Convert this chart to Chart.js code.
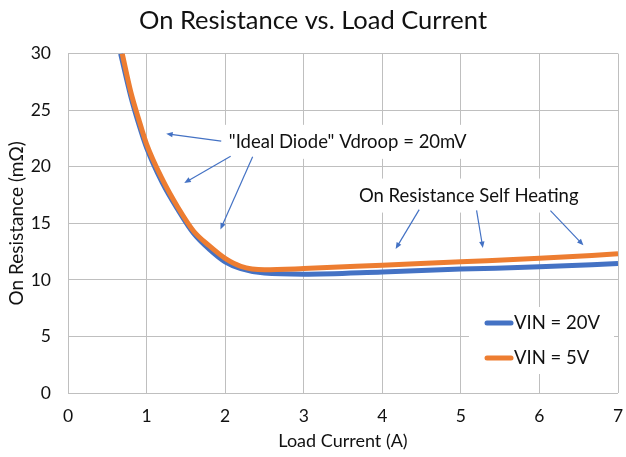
<!DOCTYPE html>
<html>
<head>
<meta charset="utf-8">
<script src="https://cdn.jsdelivr.net/npm/chart.js@4.4.8/dist/chart.umd.min.js"></script>
<style>
  html, body { margin: 0; padding: 0; background: #fff; overflow: hidden; }
  canvas { display: block; }
</style>
</head>
<body>
<canvas id="chart" width="626" height="457"></canvas>
<script>
const CHART_TITLE = "On Resistance vs. Load Current";
const X_TITLE = "Load Current (A)";
const Y_TITLE = "On Resistance (mΩ)";
const SERIES_LABELS = ["VIN = 20V", "VIN = 5V"];

// VIN = 20V
const vin20Current = [0.67, 0.8, 0.9, 1.0, 1.2, 1.4, 1.6, 1.8, 2.0, 2.2, 2.5, 3.0, 4.0, 5.0, 6.0, 7.0];
const vin20Ron = [30, 26.2, 23.8, 21.7, 18.6, 16.2, 14.1, 12.7, 11.6, 11.0, 10.6, 10.5, 10.7, 10.95, 11.15, 11.45];

// VIN = 5V
const vin5Current = [0.69, 0.8, 0.9, 1.0, 1.2, 1.4, 1.6, 1.8, 2.0, 2.2, 2.5, 3.0, 4.0, 5.0, 6.0, 7.0];
const vin5Ron = [30, 26.6, 24.2, 22.0, 18.9, 16.4, 14.3, 13.0, 11.9, 11.2, 10.9, 11.0, 11.3, 11.6, 11.9, 12.3];

const X_MIN = 0, X_MAX = 7, X_STEP = 1;
const Y_MIN = 0, Y_MAX = 30, Y_STEP = 5;

// callouts, anchored in data units (current, resistance)
const noteIdeal = "\"Ideal Diode\" Vdroop = 20mV";
const noteIdealAt = [3.56, 22.2];
const noteIdealArrows = [
  [1.95, 22.26, 1.25, 22.91],
  [2.07, 20.93, 1.48, 18.57],
  [2.35, 20.88, 1.94, 14.46],
];
const noteHeat = "On Resistance Self Heating";
const noteHeatAt = [5.10, 17.45];
const noteHeatArrows = [
  [4.47, 16.21, 4.17, 12.73],
  [5.20, 16.15, 5.28, 12.82],
  [6.14, 16.12, 6.56, 13.05],
];

const BLUE = "#4472c4";
const ORANGE = "#ed7d31";
const GRID = "#bfbfbf";
const TEXT = "#111111";
const FONT = "Lato, 'Open Sans', sans-serif";

function toPoints(xs, ys) {
  return xs.map((x, i) => ({ x, y: ys[i] }));
}

function drawArrow(ctx, x1, y1, x2, y2) {
  const ang = Math.atan2(y2 - y1, x2 - x1);
  const head = 7;
  ctx.beginPath();
  ctx.moveTo(x1, y1);
  ctx.lineTo(x2 - Math.cos(ang) * 3, y2 - Math.sin(ang) * 3);
  ctx.stroke();
  ctx.beginPath();
  ctx.moveTo(x2, y2);
  ctx.lineTo(x2 - head * Math.cos(ang - 0.4), y2 - head * Math.sin(ang - 0.4));
  ctx.lineTo(x2 - head * Math.cos(ang + 0.4), y2 - head * Math.sin(ang + 0.4));
  ctx.closePath();
  ctx.fill();
}

const calloutPlugin = {
  id: "callouts",
  afterDatasetsDraw(chart) {
    const { ctx, scales: { x, y } } = chart;
    const notes = [
      [noteIdeal, noteIdealAt, noteIdealArrows],
      [noteHeat, noteHeatAt, noteHeatArrows],
    ];
    ctx.save();
    ctx.font = `18.5px ${FONT}`;
    ctx.textAlign = "center";
    ctx.textBaseline = "middle";
    notes.forEach(([text, at, arrows]) => {
      const cx = x.getPixelForValue(at[0]);
      const cy = y.getPixelForValue(at[1]);
      const w = ctx.measureText(text).width;
      ctx.fillStyle = "#fff";
      ctx.fillRect(cx - w / 2 - 7, cy - 17, w + 14, 34);
      ctx.fillStyle = TEXT;
      ctx.fillText(text, cx, cy);
      ctx.strokeStyle = BLUE;
      ctx.fillStyle = BLUE;
      ctx.lineWidth = 1.2;
      arrows.forEach(a => {
        drawArrow(ctx,
          x.getPixelForValue(a[0]), y.getPixelForValue(a[1]),
          x.getPixelForValue(a[2]), y.getPixelForValue(a[3]));
      });
    });
    ctx.restore();
  },
  afterDraw(chart) {
    // legend box inside the plot, lower right
    const { ctx, chartArea } = chart;
    const right = chartArea.right - 4;
    const bottom = chartArea.bottom - 19;
    const w = 145, h = 67;
    ctx.save();
    ctx.fillStyle = "#fff";
    ctx.fillRect(right - w, bottom - h, w, h);
    ctx.font = `18.5px ${FONT}`;
    ctx.textBaseline = "middle";
    ctx.textAlign = "left";
    chart.data.datasets.slice().sort((a, b) => a.legendIndex - b.legendIndex).forEach((ds, i) => {
      const rowY = bottom - h + 16 + i * 35;
      const sx = right - w + 18;
      ctx.strokeStyle = ds.borderColor;
      ctx.lineWidth = 5;
      ctx.lineCap = "round";
      ctx.beginPath();
      ctx.moveTo(sx, rowY);
      ctx.lineTo(sx + 24, rowY);
      ctx.stroke();
      ctx.fillStyle = TEXT;
      ctx.fillText(ds.label, sx + 27, rowY);
    });
    ctx.restore();
  }
};

new Chart(document.getElementById("chart"), {
  type: "scatter",
  data: {
    datasets: [
      {
        label: SERIES_LABELS[1],
        legendIndex: 1,
        order: 0,
        data: toPoints(vin5Current, vin5Ron),
        showLine: true,
        borderColor: ORANGE,
        backgroundColor: ORANGE,
        borderWidth: 5,
        pointRadius: 0,
        cubicInterpolationMode: "monotone",
      },
      {
        label: SERIES_LABELS[0],
        legendIndex: 0,
        order: 1,
        data: toPoints(vin20Current, vin20Ron),
        showLine: true,
        borderColor: BLUE,
        backgroundColor: BLUE,
        borderWidth: 5,
        pointRadius: 0,
        cubicInterpolationMode: "monotone",
      },
    ],
  },
  options: {
    responsive: false,
    animation: false,
    layout: { padding: 0 },
    plugins: {
      legend: { display: false },
      tooltip: { enabled: false },
      title: {
        display: true,
        text: CHART_TITLE,
        color: TEXT,
        font: { family: FONT, size: 25.5, weight: "normal" },
        padding: { top: 5, bottom: 18 },
      },
    },
    scales: {
      x: {
        type: "linear",
        min: X_MIN,
        max: X_MAX,
        afterFit(scale) {
          scale.height = 64;
          scale.paddingLeft = 0;
          scale.paddingRight = 8;
        },
        grid: { color: GRID, drawTicks: false },
        border: { display: false },
        ticks: {
          stepSize: X_STEP,
          color: TEXT,
          padding: 13,
          font: { family: FONT, size: 17.5 },
        },
        title: {
          display: true,
          text: X_TITLE,
          color: TEXT,
          font: { family: FONT, size: 18 },
          padding: { top: 0, bottom: 5 },
        },
      },
      y: {
        min: Y_MIN,
        max: Y_MAX,
        afterFit(scale) { scale.width = 68; },
        grid: { color: GRID, drawTicks: false },
        border: { display: false },
        ticks: {
          stepSize: Y_STEP,
          color: TEXT,
          padding: 17,
          font: { family: FONT, size: 17.5 },
        },
        title: {
          display: true,
          text: Y_TITLE,
          color: TEXT,
          font: { family: FONT, size: 19 },
          padding: { top: 5, bottom: 0 },
        },
      },
    },
  },
  plugins: [calloutPlugin],
});
</script>
</body>
</html>
